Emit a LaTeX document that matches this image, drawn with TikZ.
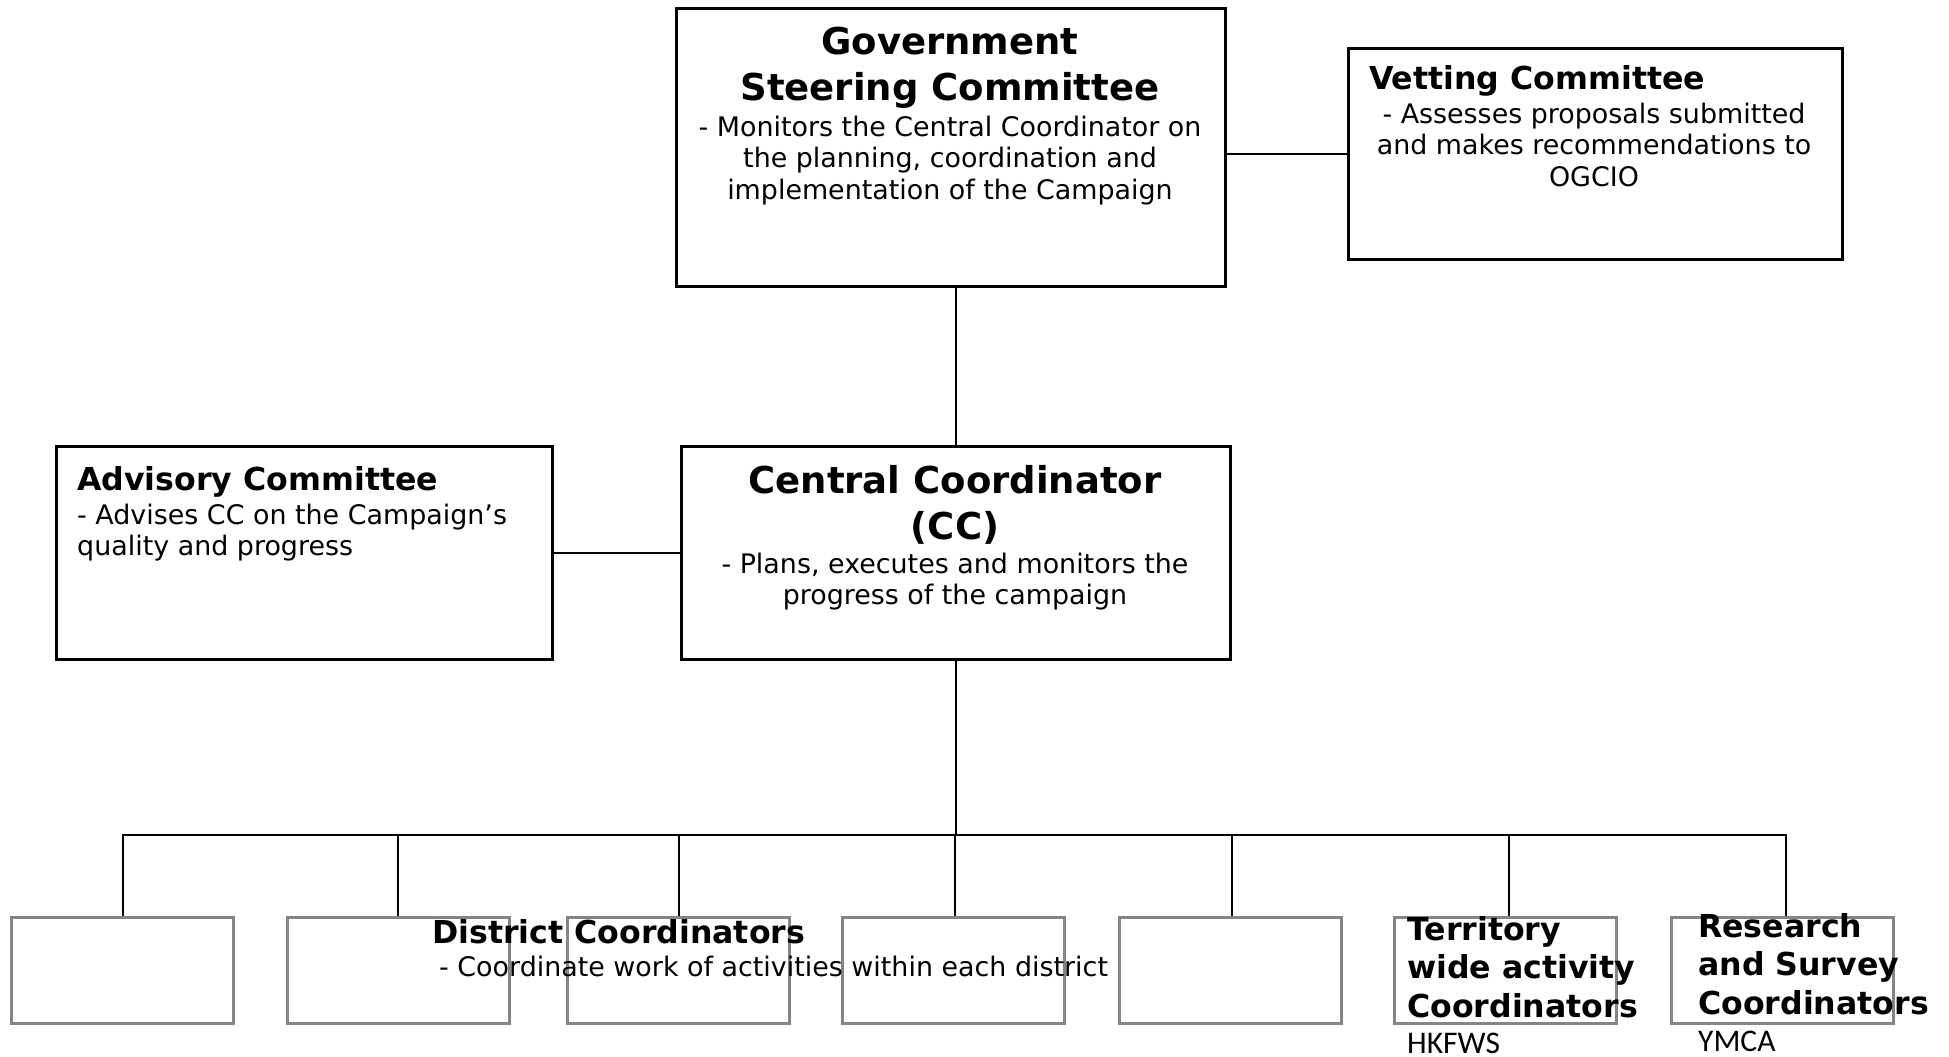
\documentclass[tikz,border=0pt]{standalone}
\usepackage{fontspec}
\setmainfont{DejaVu Sans}
\newfontfamily\calfont{Carlito}
\newcommand\mlines[2]{\begin{tabular}[t]{@{}#1@{}}#2\end{tabular}}
\tikzset{
  topbox/.style={draw=black, line width=2.8pt, inner sep=0pt, anchor=north west},
  subbox/.style={draw=black!48, line width=3pt, inner sep=0pt, anchor=north, minimum width=222pt, minimum height=106pt},
  link/.style={draw=black, line width=2.7pt},
  bigtitle/.style={inner sep=0pt, font=\bfseries\fontsize{37}{46}\selectfont},
  midtitle/.style={inner sep=0pt, font=\bfseries\fontsize{31.6}{38}\selectfont},
  bodytxt/.style={inner sep=0pt, font=\fontsize{26.9}{31.5}\selectfont},
  bottitle/.style={inner sep=0pt, font=\bfseries\fontsize{31.6}{38.5}\selectfont},
  smalltxt/.style={inner sep=0pt, font=\calfont\fontsize{31.5}{36}\selectfont}
}
\begin{document}
\begin{tikzpicture}[x=1pt, y=-1pt]
\useasboundingbox (0,0) rectangle (1949,1057);

% top-level boxes
\node[topbox, minimum width=549pt, minimum height=278pt] (gsc) at (675,7) {};
\node[topbox, minimum width=494pt, minimum height=211pt] (vet) at (1347,47) {};
\node[topbox, minimum width=496pt, minimum height=213pt] (adv) at (55,445) {};
\node[topbox, minimum width=549pt, minimum height=213pt] (cc) at (680,445) {};

% bottom boxes
\node[subbox] (b1) at (122,916) {};
\node[subbox] (b2) at (398,916) {};
\node[subbox] (b3) at (678,916) {};
\node[subbox] (b4) at (953,916) {};
\node[subbox] (b5) at (1230,916) {};
\node[subbox] (b6) at (1505,916) {};
\node[subbox] (b7) at (1782,916) {};

% connectors
\coordinate (busL) at (123,835);
\coordinate (busR) at (1786,835);
\draw[link] (vet.west) -- (vet.west -| gsc.east);
\draw[link] (cc.north) -- (cc.north |- gsc.south);
\draw[link] (adv.east) -- (adv.east -| cc.west);
\draw[link] (cc.south) -- (cc.south |- busL);
\draw[link, line cap=rect] (busL) -- (busR);
\foreach \b/\dx in {b1/1,b2/0,b3/1,b4/2,b5/2,b6/4,b7/4} {
  \draw[link] ([xshift=\dx pt]\b.north |- busL) -- ([xshift=\dx pt]\b.north);
}

% texts
\node[bigtitle, anchor=base] (gsct) at (950,55) {\mlines{c}{Government\\Steering Committee}};
\node[bodytxt, anchor=base] (gscb) at (950,136) {\mlines{c}{- Monitors the Central Coordinator on\\the planning, coordination and\\implementation of the Campaign}};

\node[midtitle, anchor=base west] (vett) at (1369,89) {Vetting Committee};
\node[bodytxt, anchor=base] (vetb) at (1594,123) {\mlines{c}{- Assesses proposals submitted\\and makes recommendations to\\OGCIO}};

\node[midtitle, anchor=base west] (advt) at (77,490) {Advisory Committee};
\node[bodytxt, anchor=base west] (advb) at (77,524) {\mlines{l}{- Advises CC on the Campaign’s\\quality and progress}};

\node[bigtitle, anchor=base] (cct) at (955,493) {\mlines{c}{Central Coordinator\\(CC)}};
\node[bodytxt, anchor=base] (ccb) at (955,573) {\mlines{c}{- Plans, executes and monitors the\\progress of the campaign}};

\node[bottitle, anchor=base west] (dct) at (432,943) {District Coordinators};
\node[bodytxt, anchor=base west] (dcb) at (439,976) {- Coordinate work of activities within each district};

\node[bottitle, anchor=base west] (twt) at (1407,940) {\mlines{l}{Territory\\wide activity\\Coordinators}};
\node[smalltxt, anchor=base west] (twb) at (1407,1053) {HKFWS};

\node[bottitle, anchor=base west] (rst) at (1698,937) {\mlines{l}{Research\\and Survey\\Coordinators}};
\node[smalltxt, anchor=base west] (rsb) at (1698,1051) {YMCA};
\end{tikzpicture}
\end{document}
